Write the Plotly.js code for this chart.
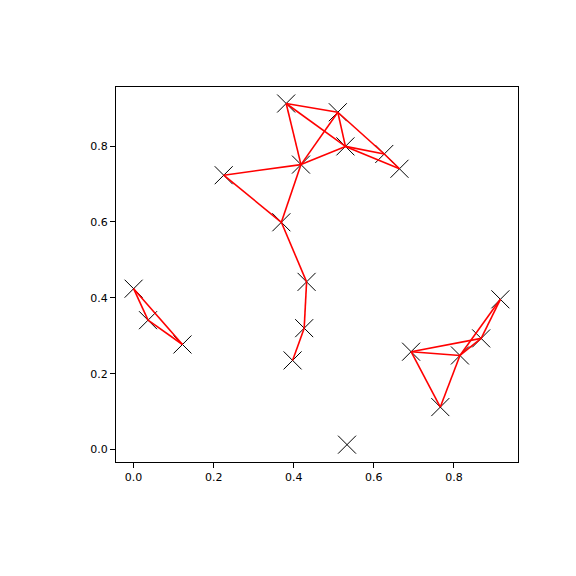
<!DOCTYPE html>
<html>
<head>
<meta charset="utf-8">
<script src="https://cdn.plot.ly/plotly-3.0.1.min.js"></script>
<style>html,body{margin:0;padding:0;background:#fff;}</style>
</head>
<body>
<div id="chart" style="width:576px;height:576px;"></div>
<script>
// Node positions
const nodeX = [0.381, 0.510, 0.529, 0.626, 0.664, 0.418, 0.225, 0.369, 0.432, 0.426,
               0.397, 0.000, 0.036, 0.122, 0.916, 0.868, 0.815, 0.693, 0.766, 0.533];
const nodeY = [0.912, 0.889, 0.799, 0.779, 0.740, 0.751, 0.723, 0.599, 0.442, 0.320,
               0.235, 0.424, 0.341, 0.277, 0.396, 0.293, 0.248, 0.258, 0.112, 0.013];
// Edges as pairs of node indices
const edgeFrom = [0, 0, 0, 1, 1, 1, 2, 2, 3, 5, 6, 6, 5, 7, 8, 9, 11, 11, 12, 14, 14, 15, 17, 17, 17, 16];
const edgeTo   = [1, 2, 5, 5, 2, 3, 3, 4, 4, 2, 5, 7, 7, 8, 9, 10, 12, 13, 13, 15, 16, 16, 15, 16, 18, 18];
const xTicks = [0.0, 0.2, 0.4, 0.6, 0.8];
const yTicks = [0.0, 0.2, 0.4, 0.6, 0.8];
const xTickText = ["0.0", "0.2", "0.4", "0.6", "0.8"];
const yTickText = ["0.0", "0.2", "0.4", "0.6", "0.8"];

const ex = [], ey = [];
for (let i = 0; i < edgeFrom.length; i++) {
  ex.push(nodeX[edgeFrom[i]], nodeX[edgeTo[i]], null);
  ey.push(nodeY[edgeFrom[i]], nodeY[edgeTo[i]], null);
}

const traces = [
  {
    x: nodeX, y: nodeY, type: 'scatter', mode: 'markers',
    marker: {symbol: 'x-thin-open', size: 18, color: '#000000',
             line: {color: '#000000', width: 1}},
    hoverinfo: 'skip'
  },
  {
    x: ex, y: ey, type: 'scatter', mode: 'lines',
    line: {color: '#ff0000', width: 1.6},
    connectgaps: false, hoverinfo: 'skip'
  }
];

const axisCommon = {
  showgrid: false, zeroline: false,
  showline: true, mirror: true, linecolor: '#000000', linewidth: 1,
  ticks: 'outside', ticklen: 5, tickwidth: 1, tickcolor: '#000000',
  tickfont: {family: 'DejaVu Sans', size: 11, color: '#000000'}
};

const layout = {
  width: 576, height: 576,
  margin: {l: 116, r: 58, t: 87, b: 114, pad: 0},
  paper_bgcolor: '#ffffff', plot_bgcolor: '#ffffff',
  showlegend: false,
  xaxis: Object.assign({}, axisCommon, {
    range: [-0.044, 0.960], tickvals: xTicks, ticktext: xTickText
  }),
  yaxis: Object.assign({}, axisCommon, {
    range: [-0.0327, 0.9555], tickvals: yTicks, ticktext: yTickText
  })
};

Plotly.newPlot('chart', traces, layout, {staticPlot: true, displayModeBar: false});
</script>
</body>
</html>
